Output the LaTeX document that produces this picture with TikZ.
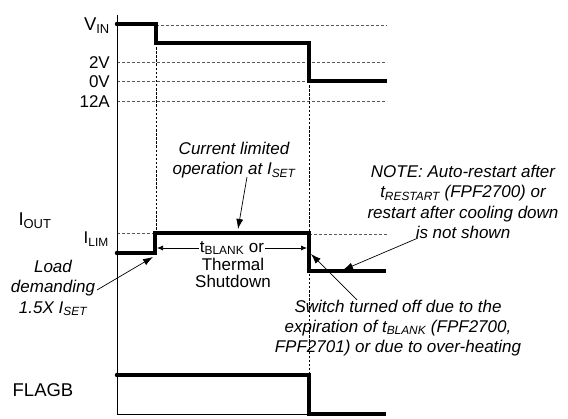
\documentclass[tikz,border=0pt]{standalone}
\usepackage{fontspec}
\setmainfont{Liberation Sans}
\usetikzlibrary{arrows.meta}
\begin{document}
\begin{tikzpicture}[x=1pt,y=-1pt,
  font=\fontsize{17}{20}\selectfont,
  trace/.style={line width=3.6pt, line join=miter},
  guide/.style={gray!70!black, dash pattern=on 3pt off 2pt, line width=0.8pt},
  vguide/.style={black, dash pattern=on 2.5pt off 1.6pt, line width=0.7pt},
  axis/.style={line width=0.9pt},
  lbl/.style={inner sep=0pt, anchor=east},
  big/.style={font=\fontsize{18.5}{22}\selectfont},
  note/.style={inner sep=0pt, align=center, font=\fontsize{17}{20.3}\selectfont\itshape},
  callout/.style={line width=0.7pt, -{Latex[length=10pt,width=7pt]}},
  dot/.style={circle, fill, inner sep=0pt, minimum size=4.5pt}
]
\useasboundingbox (0,0) rectangle (568,419);

% guides
\draw[guide] (156,25) -- (387,25);
\draw[guide] (117,62) -- (387,62);
\draw[guide] (117,81) -- (309,81);
\draw[guide] (117,101) -- (387,101);
\draw[guide] (117,233) -- (155,233);
\draw[guide] (309,234) -- (387,234);
\draw[vguide] (156,43) -- (156,233);
\draw[vguide] (309,81) -- (309,414);

% axes
\draw[axis] (117,15) -- (117,414) -- (309,414);

% traces
\draw[trace] (117,24) -- (156,24) -- (156,43) -- (309,43) -- (309,81) -- (387,81);
\draw[trace] (117,253) -- (155,253) -- (155,233) -- (309,233) -- (309,271) -- (386,271);
\draw[trace] (117,375) -- (309,375) -- (309,414) -- (386,414);
\node[dot] (d1) at (117,24) {};
\node[dot] (d2) at (117,253) {};
\node[dot] (d3) at (117,375) {};

% axis labels
\node[lbl, big] (vin) at (110,26) {V\textsubscript{IN}};
\node[lbl] (v2) at (110,63) {2V};
\node[lbl] (v0) at (110,82) {0V};
\node[lbl] (a12) at (110,102) {12A};
\node[inner sep=0pt, big] (iout) at (35,221) {I\textsubscript{OUT}};
\node[lbl] (ilim) at (109,239) {I\textsubscript{LIM}};
\node[inner sep=0pt, big] (flagb) at (43,390) {FLAGB};

% t_BLANK
\coordinate (tb1) at (157,248);
\coordinate (tb2) at (307,248);
\draw[line width=0.7pt, {Latex[length=6pt,width=5pt]}-{Latex[length=6pt,width=5pt]}] (tb1) -- (tb2);
\node[inner sep=1pt, fill=white] (tbl) at (232,248) {t\textsubscript{BLANK} or};
\node[inner sep=0pt] (therm) at (233,264) {Thermal};
\node[inner sep=0pt] (shut) at (233,281) {Shutdown};

% notes
\node[note] (cur) at (234,160) {Current limited\\operation at I\textsubscript{SET}};
\node[note] (load) at (53,288) {Load\\demanding\\1.5X I\textsubscript{SET}};
\node[note] (nt) at (463,202) {NOTE: Auto-restart after\\t\textsubscript{RESTART} (FPF2700) or\\restart after cooling down\\is not shown};
\node[note] (sw) at (398,328) {Switch turned off due to the\\expiration of t\textsubscript{BLANK} (FPF2700,\\FPF2701) or due to over-heating};

% callouts
\coordinate (c1s) at (247,177);
\coordinate (c1e) at (238,229);
\draw[callout] (c1s) -- (c1e);
\coordinate (c2s) at (97,290);
\coordinate (c2e) at (153,257);
\draw[callout] (c2s) -- (c2e);
\coordinate (c3s) at (418,238);
\coordinate (c3e) at (343,270);
\draw[callout] (c3s) -- (c3e);
\coordinate (c4s) at (357,300);
\coordinate (c4e) at (311,254);
\draw[callout] (c4s) -- (c4e);
\end{tikzpicture}
\end{document}
